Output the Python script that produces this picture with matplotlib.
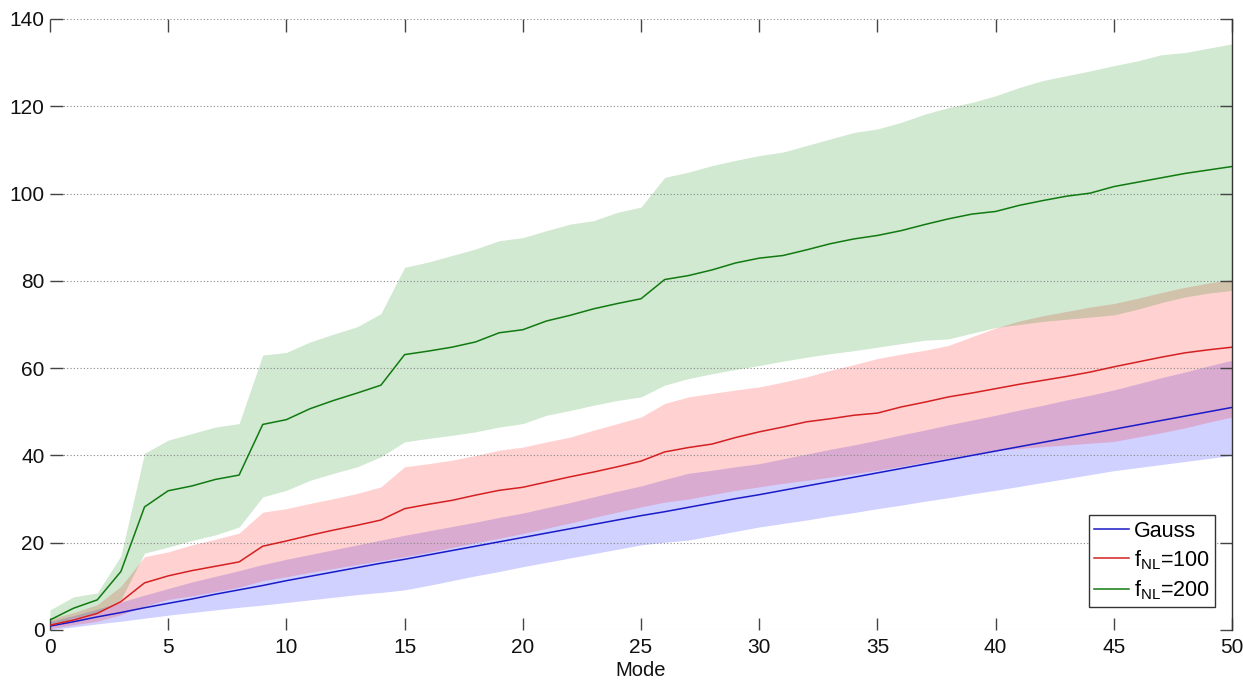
import matplotlib
matplotlib.use("Agg")
import matplotlib.pyplot as plt
import numpy as np

plt.rcParams["font.family"] = ["Liberation Sans", "DejaVu Sans"]
plt.rcParams["mathtext.default"] = "regular"

modes = list(range(51))

gauss_mean = [0.9, 1.9, 3.0, 4.0, 5.1, 6.1, 7.1, 8.2, 9.2, 10.2, 11.3, 12.3, 13.3, 14.3, 15.3,
              16.2, 17.2, 18.2, 19.2, 20.2, 21.2, 22.2, 23.2, 24.2, 25.2, 26.2, 27.1, 28.1, 29.1,
              30.1, 31.0, 32.0, 33.0, 34.0, 35.0, 36.0, 37.0, 38.0, 39.0, 40.0, 41.0, 42.0, 43.0,
              44.0, 45.0, 46.0, 47.0, 48.0, 49.0, 50.0, 51.0]
gauss_lo = [0.1, 0.7, 1.4, 2.0, 2.7, 3.4, 4.0, 4.6, 5.2, 5.7, 6.3, 6.9, 7.5, 8.1, 8.6, 9.2, 10.2,
            11.3, 12.4, 13.4, 14.5, 15.5, 16.5, 17.5, 18.5, 19.5, 20.1, 20.6, 21.6, 22.6, 23.6,
            24.4, 25.2, 26.1, 26.9, 27.8, 28.6, 29.5, 30.3, 31.2, 32.0, 32.9, 33.8, 34.7, 35.6,
            36.5, 37.2, 37.9, 38.6, 39.3, 40.0]
gauss_hi = [2.0, 3.3, 4.8, 6.4, 8.0, 9.5, 11.0, 12.3, 13.6, 15.0, 16.2, 17.3, 18.4, 19.5, 20.6,
            21.7, 22.7, 23.7, 24.7, 25.8, 26.8, 28.0, 29.2, 30.5, 31.8, 33.0, 34.5, 35.9, 36.6,
            37.4, 38.1, 39.2, 40.3, 41.4, 42.4, 43.5, 44.7, 45.8, 47.0, 48.1, 49.2, 50.4, 51.5,
            52.7, 53.8, 55.0, 56.4, 57.8, 59.1, 60.5, 61.8]

fnl100_mean = [1.1, 2.3, 3.8, 6.5, 10.8, 12.4, 13.6, 14.6, 15.6, 19.2, 20.4, 21.7, 22.9, 24.0,
               25.2, 27.8, 28.8, 29.7, 30.9, 32.0, 32.7, 33.9, 35.1, 36.2, 37.4, 38.7, 40.8,
               41.8, 42.6, 44.1, 45.4, 46.5, 47.7, 48.4, 49.2, 49.7, 51.1, 52.2, 53.4, 54.3,
               55.3, 56.3, 57.2, 58.1, 59.1, 60.3, 61.4, 62.5, 63.5, 64.2, 64.8]
fnl100_lo = [0.3, 1.2, 2.0, 3.5, 5.5, 7.0, 7.8, 8.8, 9.8, 11.3, 12.2, 13.2, 14.1, 15.0, 15.9,
             16.8, 17.8, 18.9, 20.0, 21.0, 22.1, 23.3, 24.5, 25.8, 27.0, 28.2, 29.3, 30.0, 31.0,
             32.0, 32.8, 33.6, 34.3, 35.0, 35.8, 36.6, 37.5, 38.5, 39.4, 40.3, 41.2, 41.6, 42.0,
             42.4, 42.8, 43.2, 44.2, 45.2, 46.3, 47.6, 48.8]
fnl100_hi = [2.5, 4.0, 5.8, 10.0, 16.8, 17.9, 19.5, 20.8, 22.2, 27.0, 27.8, 29.0, 30.1, 31.3,
             32.8, 37.4, 38.1, 38.9, 40.0, 41.2, 41.9, 43.1, 44.2, 45.8, 47.3, 48.8, 51.9, 53.4,
             54.2, 55.0, 55.7, 56.8, 58.0, 59.5, 60.8, 62.2, 63.2, 64.1, 65.2, 67.2, 69.2, 70.8,
             72.0, 73.0, 74.0, 74.8, 76.0, 77.3, 78.5, 79.5, 80.3]

fnl200_mean = [2.3, 5.0, 6.9, 13.4, 28.2, 31.9, 33.0, 34.5, 35.5, 47.1, 48.2, 50.7, 52.6, 54.3,
               56.1, 63.1, 63.9, 64.8, 66.0, 68.1, 68.8, 70.8, 72.1, 73.6, 74.8, 75.9, 80.3,
               81.2, 82.5, 84.1, 85.2, 85.8, 87.1, 88.5, 89.6, 90.4, 91.5, 92.9, 94.2, 95.3,
               95.9, 97.3, 98.4, 99.4, 100.1, 101.6, 102.6, 103.6, 104.6, 105.4, 106.2]
fnl200_lo = [1.0, 2.8, 4.0, 7.0, 17.6, 19.0, 20.5, 21.8, 23.6, 30.5, 32.0, 34.3, 35.9, 37.4,
             39.7, 43.1, 43.9, 44.6, 45.4, 46.5, 47.3, 49.2, 50.3, 51.5, 52.6, 53.4, 56.1, 57.6,
             58.7, 59.7, 60.6, 61.6, 62.5, 63.3, 64.0, 64.8, 65.6, 66.4, 66.7, 68.0, 69.3, 70.0,
             70.7, 71.2, 71.7, 72.2, 73.5, 75.0, 76.3, 77.2, 77.8]
fnl200_hi = [4.6, 7.6, 8.5, 17.0, 40.5, 43.5, 45.0, 46.5, 47.3, 63.0, 63.6, 66.0, 67.8, 69.5,
             72.5, 83.1, 84.3, 85.8, 87.3, 89.2, 89.9, 91.5, 93.0, 93.8, 95.7, 96.9, 103.7,
             104.9, 106.4, 107.6, 108.7, 109.5, 111.0, 112.5, 114.0, 114.8, 116.3, 118.2, 119.7,
             120.9, 122.4, 124.3, 125.9, 127.0, 128.1, 129.3, 130.4, 131.8, 132.3, 133.3, 134.3]

series = [
    ("Gauss", gauss_mean, gauss_lo, gauss_hi, (0, 0, 1), "#1a1ac8"),
    ("f$_{NL}$=100", fnl100_mean, fnl100_lo, fnl100_hi, (1, 0, 0), "#d42020"),
    ("f$_{NL}$=200", fnl200_mean, fnl200_lo, fnl200_hi, (0, 0.5, 0), "#107a10"),
]

x_ticks = list(range(0, 51, 5))
y_ticks = list(range(0, 141, 20))

fig = plt.figure(figsize=(12.43, 6.83), dpi=100)
ax = fig.add_axes([0.0402, 0.0776, 0.9510, 0.8946])

# shaded spread bands first, then the mean curves on top
for label, mean, lo, hi, fill_col, line_col in series:
    ax.fill_between(modes, lo, hi, color=fill_col, alpha=0.18, linewidth=0)
for label, mean, lo, hi, fill_col, line_col in series:
    ax.plot(modes, mean, color=line_col, linewidth=1.1, label=label)

ax.set_xlim(0, 50)
ax.set_ylim(0, 140)
ax.set_xticks(x_ticks)
ax.set_yticks(y_ticks)
ax.tick_params(axis="both", direction="in", labelsize=15, colors="#444444",
               labelcolor="#111111", length=9, width=1.0, top=True, right=True)
ax.tick_params(axis="x", pad=6)
ax.tick_params(axis="y", pad=4)

ax.yaxis.grid(True, linestyle=(0, (1, 2)), color="#888888", linewidth=0.8)
for side in ("left", "bottom", "top"):
    ax.spines[side].set_visible(False)
ax.spines["right"].set_color("#333333")
ax.spines["right"].set_linewidth(1.0)

ax.set_xlabel("Mode", fontsize=14.5, labelpad=3, color="#111111")

leg = ax.legend(loc="lower right", bbox_to_anchor=(0.9856, 0.0376), fontsize=15.5,
                frameon=True, fancybox=False, handlelength=1.6, handletextpad=0.25,
                borderpad=0.25, labelspacing=0.3, borderaxespad=0)
leg.get_frame().set_edgecolor("#333333")
leg.get_frame().set_linewidth(1.0)
leg.get_frame().set_facecolor("white")
leg.get_frame().set_alpha(1.0)

fig.savefig("out.png", dpi=100)
